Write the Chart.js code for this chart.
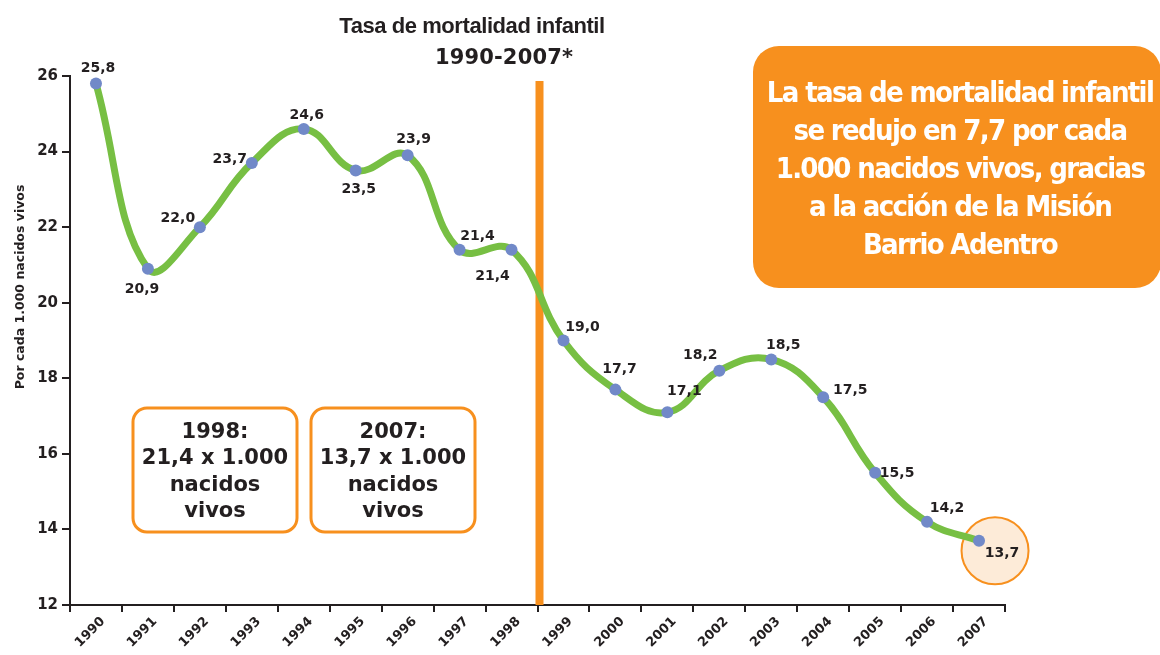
<!DOCTYPE html>
<html>
<head>
<meta charset="utf-8">
<script src="https://cdn.jsdelivr.net/npm/chart.js@4.4.1/dist/chart.umd.min.js"></script>
<style>
  html, body { margin: 0; padding: 0; background: #ffffff; }
  #wrap { width: 1160px; height: 655px; position: relative; }
</style>
</head>
<body>
<div id="wrap"><canvas id="chart"></canvas></div>
<script>
// ---------- data ----------
const years = ['1990','1991','1992','1993','1994','1995','1996','1997','1998',
               '1999','2000','2001','2002','2003','2004','2005','2006','2007'];
const rates = [25.8, 20.9, 22.0, 23.7, 24.6, 23.5, 23.9, 21.4, 21.4,
               19.0, 17.7, 17.1, 18.2, 18.5, 17.5, 15.5, 14.2, 13.7];
const yTicks = [12, 14, 16, 18, 20, 22, 24, 26];

const titleLines = ['Tasa de mortalidad infantil', '1990-2007*'];
const yAxisTitle = 'Por cada 1.000 nacidos vivos';
const calloutLines = ['La tasa de mortalidad infantil', 'se redujo en 7,7 por cada',
                      '1.000 nacidos vivos, gracias', 'a la acción de la Misión', 'Barrio Adentro'];
const box1998Lines = ['1998:', '21,4 x 1.000', 'nacidos', 'vivos'];
const box2007Lines = ['2007:', '13,7 x 1.000', 'nacidos', 'vivos'];
const dividerAfterIndex = 8;     // vertical line between 1998 and 1999
const highlightIndex = 17;       // 2007 highlighted

// ---------- style ----------
const ORANGE = '#F7901E';
const GREEN = '#77BF43';
const POINT = '#7189C8';
const INK = '#231F20';
// label offsets (dx, dy) of each value label from its point, in px
const labelOffsets = [[2,-17],[-6,19],[-22,-10],[-22,-5],[3,-15],[3,18],[6,-17],[18,-15],[-19,25],
                      [19,-15],[4,-22],[17,-22],[-19,-17],[12,-15],[27,-8],[22,-1],[20,-15],[23,11]];

const fmt = v => v.toFixed(1).replace('.', ',');

function rrect(ctx, x, y, w, h, r) {
  ctx.beginPath();
  ctx.moveTo(x + r, y);
  ctx.lineTo(x + w - r, y);
  ctx.arcTo(x + w, y, x + w, y + r, r);
  ctx.lineTo(x + w, y + h - r);
  ctx.arcTo(x + w, y + h, x + w - r, y + h, r);
  ctx.lineTo(x + r, y + h);
  ctx.arcTo(x, y + h, x, y + h - r, r);
  ctx.lineTo(x, y + r);
  ctx.arcTo(x, y, x + r, y, r);
  ctx.closePath();
}

function fitSpacing(ctx, text, target) {
  ctx.letterSpacing = '0px';
  const w = ctx.measureText(text).width;
  const s = (target - w) / Math.max(1, text.length - 1);
  ctx.letterSpacing = s.toFixed(2) + 'px';
}

const decor = {
  id: 'decor',
  beforeDatasetsDraw(chart) {
    const { ctx, chartArea: a, scales: { x } } = chart;
    const p = chart.getDatasetMeta(0).data[highlightIndex];
    ctx.save();
    ctx.beginPath();
    ctx.arc(p.x + 16, p.y + 10, 33.5, 0, Math.PI * 2);
    ctx.fillStyle = '#FDEBD8';
    ctx.fill();
    ctx.lineWidth = 2;
    ctx.strokeStyle = ORANGE;
    ctx.stroke();
    const vx = (x.getPixelForValue(dividerAfterIndex) + x.getPixelForValue(dividerAfterIndex + 1)) / 2 + 2;
    ctx.fillStyle = ORANGE;
    ctx.fillRect(vx - 4, a.top + 5, 8, a.bottom - a.top - 5);
    ctx.restore();
  },
  afterDatasetsDraw(chart) {
    const { ctx } = chart;
    const pts = chart.getDatasetMeta(0).data;
    ctx.save();
    ctx.font = 'bold 14px "DejaVu Sans", sans-serif';
    ctx.fillStyle = INK;
    ctx.textAlign = 'center';
    ctx.textBaseline = 'alphabetic';
    pts.forEach((p, i) => {
      const [dx, dy] = labelOffsets[i];
      ctx.fillText(fmt(rates[i]), p.x + dx, p.y + dy + 5);
    });
    ctx.restore();
  },
  afterDraw(chart) {
    const { ctx } = chart;
    ctx.save();
    // title
    ctx.fillStyle = INK;
    ctx.textAlign = 'center';
    ctx.font = 'bold 22px "Liberation Sans", Arial, sans-serif';
    fitSpacing(ctx, titleLines[0], 266);
    ctx.fillText(titleLines[0], 472, 33);
    ctx.font = 'bold 21px "DejaVu Sans", sans-serif';
    fitSpacing(ctx, titleLines[1], 138);
    ctx.fillText(titleLines[1], 504, 64);
    ctx.letterSpacing = '0px';

    // y axis title
    ctx.save();
    ctx.translate(24, 287);
    ctx.rotate(-Math.PI / 2);
    ctx.font = 'bold 12.5px "DejaVu Sans", sans-serif';
    ctx.textAlign = 'center';
    ctx.fillText(yAxisTitle, 0, 0);
    ctx.restore();

    // small boxes
    const drawBox = (x, lines) => {
      rrect(ctx, x, 408, 164, 124, 14);
      ctx.lineWidth = 3;
      ctx.strokeStyle = ORANGE;
      ctx.stroke();
      ctx.fillStyle = INK;
      ctx.font = 'bold 21px "DejaVu Sans", sans-serif';
      ctx.textAlign = 'center';
      const bl = [438, 464, 491, 517];
      lines.forEach((t, i) => ctx.fillText(t, x + 82, bl[i]));
    };
    drawBox(133, box1998Lines);
    drawBox(311, box2007Lines);

    // orange callout
    rrect(ctx, 753, 46, 408, 242, 26);
    ctx.fillStyle = ORANGE;
    ctx.fill();
    ctx.fillStyle = '#FFFFFF';
    ctx.textAlign = 'center';
    ctx.font = 'bold 29px "Liberation Sans Narrow", "DejaVu Sans Condensed", sans-serif';
    fitSpacing(ctx, calloutLines[0], 388);
    const cb = [102, 140, 178, 216, 254];
    calloutLines.forEach((t, i) => ctx.fillText(t, 960, cb[i]));
    ctx.restore();
  }
};

new Chart(document.getElementById('chart'), {
  type: 'line',
  data: {
    labels: years,
    datasets: [{
      data: rates,
      borderColor: GREEN,
      borderWidth: 7,
      tension: 0.42,
      pointRadius: 6,
      pointHoverRadius: 6,
      pointBackgroundColor: POINT,
      pointBorderWidth: 0,
      fill: false
    }]
  },
  options: {
    responsive: true,
    maintainAspectRatio: false,
    animation: false,
    layout: { padding: { top: 76, right: 155, left: 0, bottom: 0 } },
    plugins: { legend: { display: false }, tooltip: { enabled: false }, title: { display: false } },
    scales: {
      x: {
        offset: true,
        grid: { offset: true, drawOnChartArea: false, drawTicks: true, tickLength: 7, color: INK, lineWidth: 2 },
        border: { color: INK, width: 2 },
        ticks: {
          color: INK,
          font: { family: '"DejaVu Sans", sans-serif', weight: 'bold', size: 13 },
          minRotation: 45, maxRotation: 45, autoSkip: false, padding: 2, labelOffset: 7
        },
        afterFit(s) { s.height = 50; }
      },
      y: {
        min: yTicks[0],
        max: yTicks[yTicks.length - 1],
        afterBuildTicks(s) { s.ticks = yTicks.map(v => ({ value: v })); },
        grid: { drawOnChartArea: false, drawTicks: true, tickLength: 8, color: INK, lineWidth: 2 },
        border: { color: INK, width: 2 },
        ticks: {
          color: INK,
          padding: 4,
          font: { family: '"DejaVu Sans", sans-serif', weight: 'bold', size: 15 }
        },
        afterFit(s) { s.width = 70; }
      }
    }
  },
  plugins: [decor]
});
</script>
</body>
</html>
